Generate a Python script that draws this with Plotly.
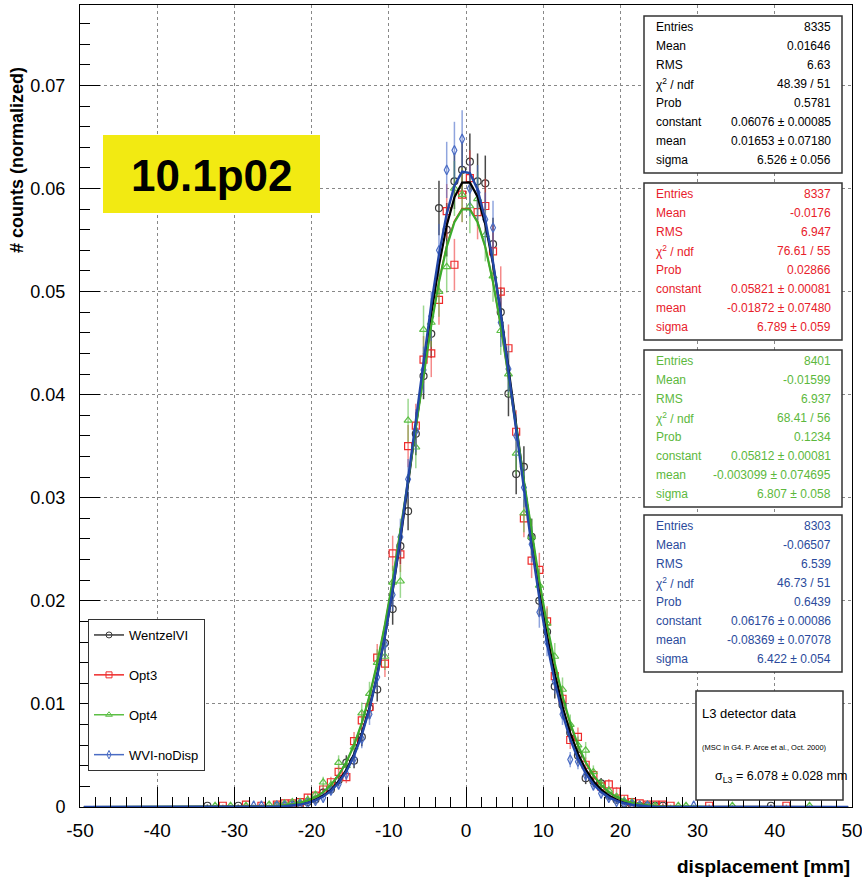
import numpy as np
import plotly.graph_objects as go

FONT = "Liberation Sans Narrow, Liberation Sans, Arial, sans-serif"
FONT_B = "Liberation Sans, Arial, sans-serif"

# ---------------- data ----------------
bin_centers = [-24.5, -23.5, -22.5, -21.5, -20.5, -19.5, -18.5, -17.5, -16.5, -15.5,
               -14.5, -13.5, -12.5, -11.5, -10.5, -9.5, -8.5, -7.5, -6.5, -5.5,
               -4.5, -3.5, -2.5, -1.5, -0.5, 0.5, 1.5, 2.5, 3.5, 4.5,
               5.5, 6.5, 7.5, 8.5, 9.5, 10.5, 11.5, 12.5, 13.5, 14.5,
               15.5, 16.5, 17.5, 18.5, 19.5, 20.5, 21.5, 22.5, 23.5, 24.5]

wentzel = [0.00012, 0.00012, 0.00024, 0.00024, 0.00048, 0.00072, 0.0014, 0.0017, 0.0026, 0.0043,
           0.0045, 0.0068, 0.0096, 0.0114, 0.0159, 0.0192, 0.0253, 0.0287, 0.0362, 0.0418,
           0.0459, 0.0581, 0.0560, 0.0607, 0.0618, 0.0626, 0.0607, 0.0605, 0.0546, 0.0480,
           0.0401, 0.0323, 0.0330, 0.0262, 0.0200, 0.0170, 0.0117, 0.0099, 0.0072, 0.0050,
           0.0028, 0.0025, 0.0023, 0.0011, 0.0007, 0.00036, 0.00024, 0.00012, 0.00012, 0.00012]

opt3 = [0.00024, 0.00036, 0.00036, 0.00048, 0.0009, 0.0011, 0.0017, 0.0024, 0.0034, 0.0029,
        0.0064, 0.0084, 0.0097, 0.0145, 0.0139, 0.0246, 0.0245, 0.0350, 0.0370, 0.0434,
        0.0440, 0.0492, 0.0578, 0.0526, 0.0594, 0.0610, 0.0577, 0.0583, 0.0539, 0.0500,
        0.0445, 0.0364, 0.0280, 0.0239, 0.0230, 0.0180, 0.0127, 0.0105, 0.0065, 0.0068,
        0.0041, 0.0031, 0.0020, 0.0022, 0.0015, 0.0008, 0.00048, 0.00036, 0.00024, 0.00024]

opt4 = [0.00024, 0.00036, 0.00048, 0.00048, 0.0007, 0.0012, 0.0024, 0.0021, 0.0043, 0.0040,
        0.0058, 0.0091, 0.0110, 0.0140, 0.0146, 0.0218, 0.0219, 0.0375, 0.0349, 0.0463,
        0.0470, 0.0500, 0.0524, 0.0600, 0.0594, 0.0583, 0.0590, 0.0555, 0.0515, 0.0462,
        0.0420, 0.0343, 0.0285, 0.0262, 0.0215, 0.0178, 0.0146, 0.0114, 0.0080, 0.0060,
        0.0055, 0.0034, 0.0022, 0.0016, 0.0010, 0.0006, 0.00048, 0.00024, 0.00024, 0.00012]

wvi_nodisp = [0.00012, 0.00012, 0.00012, 0.00024, 0.00036, 0.0006, 0.0009, 0.0016, 0.0022, 0.0032,
              0.0047, 0.0066, 0.0090, 0.0126, 0.0158, 0.0206, 0.0262, 0.0318, 0.0365, 0.0424,
              0.0476, 0.0540, 0.0618, 0.0637, 0.0648, 0.0600, 0.0596, 0.0570, 0.0562, 0.0470,
              0.0425, 0.0360, 0.0310, 0.0255, 0.0189, 0.0160, 0.0122, 0.0090, 0.0046, 0.0044,
              0.0031, 0.0021, 0.0013, 0.0009, 0.0005, 0.00036, 0.00024, 0.00012, 0.00012, 0.0]

# sparse single-count tail bins
wentzel_tail_x = [-33.5, -29.5, 25.5, 39.5]
wentzel_tail_y = [0.00012, 0.00012, 0.00012, 0.00012]
opt3_tail_x = [-31.5, -28.5, -26.5, 25.5, 26.5, 31.5, 41.5]
opt3_tail_y = [0.00012, 0.00024, 0.00012, 0.00024, 0.00012, 0.00012, 0.00012]
opt4_tail_x = [-32.5, -30.5, -28.5, -25.5, 27.5, 28.5, 34.5, 44.5]
opt4_tail_y = [0.00012, 0.00012, 0.00012, 0.00024, 0.00012, 0.00012, 0.00012, 0.00012]
wvi_tail_x = [-27.5, -26.5, 29.5]
wvi_tail_y = [0.00012, 0.00012, 0.00012]

series_names = ["WentzelVI", "Opt3", "Opt4", "WVI-noDisp"]
entries = [8335, 8337, 8401, 8303]
fit_constant = [0.06076, 0.05821, 0.05812, 0.06176]
fit_mean = [0.01653, -0.01872, -0.003099, -0.08369]
fit_sigma = [6.526, 6.789, 6.807, 6.422]

x_tick_vals = [-50, -40, -30, -20, -10, 0, 10, 20, 30, 40, 50]
x_tick_text = ["-50", "-40", "-30", "-20", "-10", "0", "10", "20", "30", "40", "50"]
y_tick_vals = [0, 0.01, 0.02, 0.03, 0.04, 0.05, 0.06, 0.07]
y_tick_text = ["0", "0.01", "0.02", "0.03", "0.04", "0.05", "0.06", "0.07"]

stat_labels = ["Entries", "Mean", "RMS", "χ<sup>2</sup> / ndf", "Prob", "constant", "mean", "sigma"]
stat_values = [
    ["8335", "0.01646", "6.63", "48.39 / 51", "0.5781", "0.06076 ± 0.00085", "0.01653 ± 0.07180", "6.526 ± 0.056"],
    ["8337", "-0.0176", "6.947", "76.61 / 55", "0.02866", "0.05821 ± 0.00081", "-0.01872 ± 0.07480", "6.789 ± 0.059"],
    ["8401", "-0.01599", "6.937", "68.41 / 56", "0.1234", "0.05812 ± 0.00081", "-0.003099 ± 0.074695", "6.807 ± 0.058"],
    ["8303", "-0.06507", "6.539", "46.73 / 51", "0.6439", "0.06176 ± 0.00086", "-0.08369 ± 0.07078", "6.422 ± 0.054"],
]

# ---------------- styles ----------------
marker_colors = ["#3a3a3a", "#ee2a2a", "#5cbf45", "#4a6cc4"]
err_colors = ["rgba(40,40,40,0.85)", "rgba(238,60,60,0.6)", "rgba(90,190,70,0.6)", "rgba(70,105,200,0.6)"]
fit_colors = ["#000000", "#ff1a1a", "#3aad2c", "#2347a8"]
fit_widths = [2.2, 1.5, 2.2, 2.4]
text_colors = ["#000000", "#e8202a", "#5cb83c", "#2a4a9c"]
symbols = ["circle-open", "square-open", "triangle-up-open", "diamond-tall-open"]
msizes = [7, 7, 7, 7]

core = [wentzel, opt3, opt4, wvi_nodisp]
tails = [(wentzel_tail_x, wentzel_tail_y), (opt3_tail_x, opt3_tail_y),
         (opt4_tail_x, opt4_tail_y), (wvi_tail_x, wvi_tail_y)]

fig = go.Figure()
x_fit = np.arange(-49.5, 50.0, 1.0)

for k in range(4):
    xs = list(bin_centers) + list(tails[k][0])
    ys = list(core[k]) + list(tails[k][1])
    pts = [(x, y) for x, y in zip(xs, ys) if y > 0]
    px_ = np.array([p[0] for p in pts])
    py_ = np.array([p[1] for p in pts])
    err = np.sqrt(py_ / entries[k])
    fig.add_trace(go.Scatter(
        x=px_, y=py_, mode="markers", showlegend=False,
        marker=dict(symbol=symbols[k], size=msizes[k], color=marker_colors[k], line=dict(width=1.2, color=marker_colors[k])),
        error_y=dict(type="data", array=err, color=err_colors[k], thickness=1.5, width=0),
    ))
for k in range(4):
    yf = fit_constant[k] * np.exp(-0.5 * ((x_fit - fit_mean[k]) / fit_sigma[k]) ** 2)
    fig.add_trace(go.Scatter(x=x_fit, y=yf, mode="lines", showlegend=False,
                             line=dict(color=fit_colors[k], width=fit_widths[k])))

# legend entries
for k in range(4):
    fig.add_trace(go.Scatter(
        x=[None], y=[None], mode="lines+markers", name=series_names[k], legendgroup=series_names[k],
        line=dict(color=marker_colors[k], width=1.5),
        marker=dict(symbol=symbols[k], size=6, color=marker_colors[k], line=dict(width=1, color=marker_colors[k])),
    ))

# ---------------- layout helpers ----------------
L, R, T, B = 80, 10, 5, 77
W, H = 862, 884
PW, PH = W - L - R, H - T - B


def pxx(px):
    return (px - L) / PW


def pxy(py):
    return (H - B - py) / PH


shapes = []
annotations = []

# stat boxes
box_tops = [16, 183, 350, 515]
for k in range(4):
    t = box_tops[k]
    shapes.append(dict(type="rect", xref="paper", yref="paper", x0=pxx(644), x1=pxx(842),
                       y0=pxy(t + 157), y1=pxy(t), line=dict(color="#333333", width=1.5), fillcolor="white", layer="above"))
    for j in range(8):
        yy = pxy(t + 11 + 19 * j)
        annotations.append(dict(xref="paper", yref="paper", x=pxx(654), y=yy, xanchor="left", yanchor="middle",
                                text=stat_labels[j], showarrow=False, font=dict(family=FONT, size=12, color=text_colors[k])))
        annotations.append(dict(xref="paper", yref="paper", x=pxx(833), y=yy, xanchor="right", yanchor="middle",
                                text=stat_values[k][j], showarrow=False, font=dict(family=FONT, size=12, color=text_colors[k])))

# L3 detector box
shapes.append(dict(type="rect", xref="paper", yref="paper", x0=pxx(696), x1=pxx(843), y0=pxy(800), y1=pxy(691),
                   line=dict(color="#333333", width=1.5), fillcolor="white", layer="above"))
annotations.append(dict(xref="paper", yref="paper", x=pxx(700), y=pxy(713), xanchor="left", yanchor="middle",
                        text="L3 detector data", showarrow=False, font=dict(family=FONT, size=13, color="black")))
annotations.append(dict(xref="paper", yref="paper", x=pxx(700), y=pxy(747), xanchor="left", yanchor="middle",
                        text="(MSC in G4. P. Arce et al., Oct. 2000)", showarrow=False,
                        font=dict(family=FONT, size=7.5, color="black")))
annotations.append(dict(xref="paper", yref="paper", x=pxx(713), y=pxy(777), xanchor="left", yanchor="middle",
                        text="σ<sub>L3</sub> = 6.078 ± 0.028 mm", showarrow=False,
                        font=dict(family=FONT, size=12.5, color="black")))

# yellow label
shapes.append(dict(type="rect", xref="paper", yref="paper", x0=pxx(103), x1=pxx(320), y0=pxy(213), y1=pxy(135),
                   line=dict(width=0), fillcolor="#f2ea12", layer="above"))
annotations.append(dict(xref="paper", yref="paper", x=pxx(211), y=pxy(175), xanchor="center", yanchor="middle",
                        text="<b>10.1p02</b>", showarrow=False, font=dict(family=FONT_B, size=44, color="black")))

# axis titles
annotations.append(dict(xref="paper", yref="paper", x=pxx(852), y=pxy(866), xanchor="right", yanchor="middle",
                        text="<b>displacement [mm]</b>", showarrow=False, font=dict(family=FONT, size=19, color="black")))
annotations.append(dict(xref="paper", yref="paper", x=pxx(17), y=pxy(160), xanchor="center", yanchor="middle",
                        textangle=-90, text="<b># counts (normalized)</b>", showarrow=False,
                        font=dict(family=FONT, size=18, color="black")))

fig.update_layout(
    width=W, height=H,
    margin=dict(l=L, r=R, t=T, b=B, autoexpand=False),
    paper_bgcolor="white", plot_bgcolor="white",
    shapes=shapes, annotations=annotations,
    legend=dict(x=pxx(88), y=pxy(619), xanchor="left", yanchor="top", bgcolor="white",
                bordercolor="#333333", borderwidth=1, font=dict(family=FONT, size=13, color="black"),
                traceorder="grouped", tracegroupgap=20, itemwidth=30),
    xaxis=dict(range=[-50, 50], tickmode="array", tickvals=x_tick_vals, ticktext=x_tick_text,
               showgrid=True, gridcolor="#888888", griddash="dot", gridwidth=1, automargin=False,
               zeroline=False, showline=True, linecolor="black", linewidth=1, mirror=True,
               ticks="inside", ticklen=20, tickcolor="black", ticklabeloverflow="allow",
               minor=dict(dtick=2, tick0=0, ticks="inside", ticklen=10, tickcolor="black", showgrid=False),
               tickfont=dict(family=FONT, size=19, color="black"), ticklabelstandoff=6),
    yaxis=dict(range=[0, 0.0778], tickmode="array", tickvals=y_tick_vals, ticktext=y_tick_text,
               showgrid=True, gridcolor="#888888", griddash="dot", gridwidth=1, automargin=False,
               zeroline=False, showline=True, linecolor="black", linewidth=1, mirror=True,
               ticks="inside", ticklen=20, tickcolor="black", ticklabeloverflow="allow",
               minor=dict(dtick=0.002, tick0=0, ticks="inside", ticklen=10, tickcolor="black", showgrid=False),
               tickfont=dict(family=FONT, size=18, color="black"), ticklabelstandoff=10),
)

fig.write_html("out.html")
